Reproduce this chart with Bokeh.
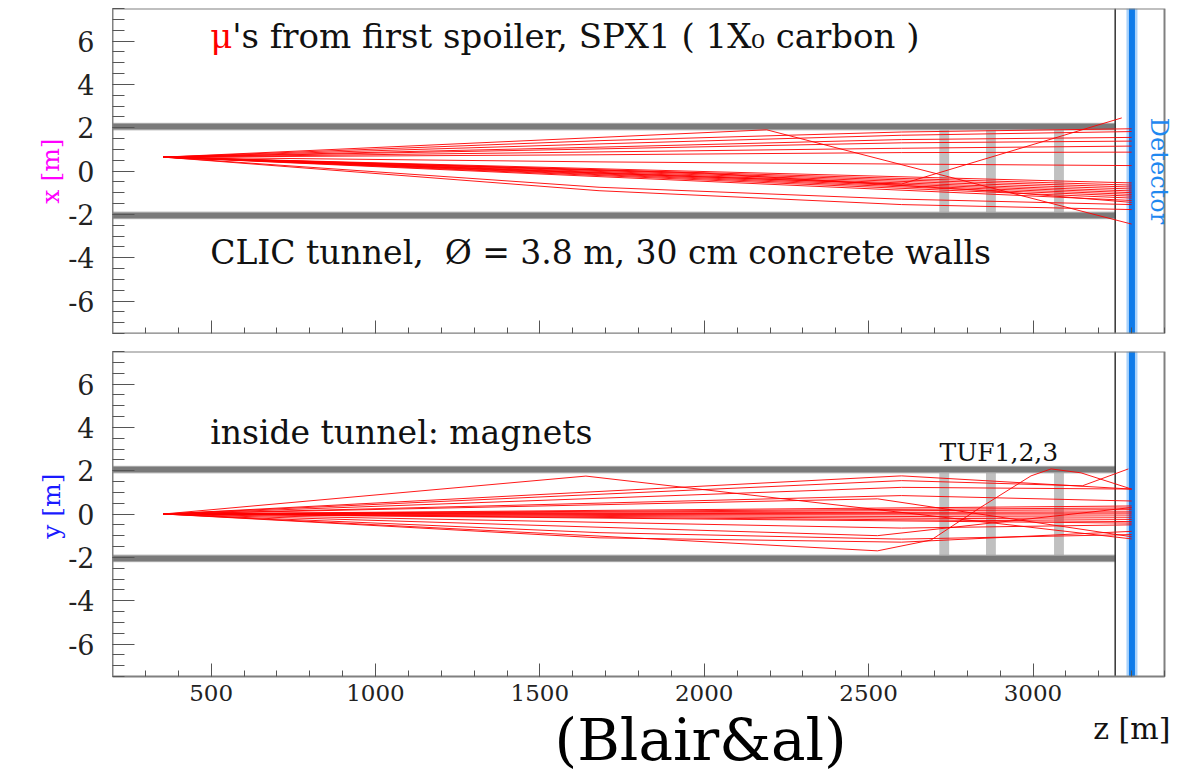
import math
from bokeh.plotting import figure
from bokeh.layouts import column
from bokeh.models import Range1d, SingleIntervalTicker, Label, Title, CustomLabelingPolicy
from bokeh.embed import file_html
from bokeh.resources import INLINE

# ---------------- data ----------------
Z_RANGE = (200, 3400)          # drawn box in z
R_RANGE = (-7.5, 7.5)          # drawn box in x / y
WALL_INNER = 1.9
WALL_OUTER = 2.2
TUNNEL_END_Z = 3250
DETECTOR_Z = 3301
TUF_Z = [2730, 2872, 3079]
TUF_HALF_WIDTH = 15
Y_TICK_LABELS = {-6: "-6", -4: "-4", -2: "-2", 0: "0", 2: "2", 4: "4", 6: "6"}

# muon tracks, horizontal plane (x vs z)
X_TRACKS_Z = [
    [355, 2190, 3300],
    [355, 1680, 2600, 3300],
    [355, 1680, 2600, 3300],
    [355, 1680, 2600, 3300],
    [355, 1680, 2600, 3300],
    [355, 1680, 2600, 3300],
    [355, 1680, 2600, 3300],
    [355, 1680, 2600, 3300],
    [355, 3300],
    [355, 3300],
    [355, 3300],
    [355, 3300],
    [355, 3300],
    [355, 3300],
    [355, 3300],
    [355, 3300],
    [355, 3300],
    [355, 3300],
    [355, 1680, 2600, 3300],
    [355, 1680, 2600, 3300],
    [355, 2600, 3270],
    [355, 2000, 2900, 3300],
]
X_TRACKS_X = [
    [0.64, 1.90, -2.45],
    [0.64, 1.40, 1.80, 1.95],
    [0.64, 1.25, 1.65, 1.82],
    [0.64, 1.10, 1.45, 1.55],
    [0.64, 1.02, 1.30, 1.38],
    [0.64, 0.88, 1.05, 1.15],
    [0.64, 0.75, 0.85, 0.87],
    [0.64, 0.42, 0.32, 0.25],
    [0.64, -0.55],
    [0.64, -0.65],
    [0.64, -0.74],
    [0.64, -0.83],
    [0.64, -0.92],
    [0.64, -1.00],
    [0.64, -1.08],
    [0.64, -1.16],
    [0.64, -1.25],
    [0.64, -1.36],
    [0.64, -0.75, -1.30, -1.55],
    [0.64, -0.91, -1.55, -1.78],
    [0.64, -0.60, 2.45],
    [0.64, -0.10, -0.95, -1.45],
]

# muon tracks, vertical plane (y vs z)
Y_TRACKS_Z = [
    [355, 1640, 3300],
    [355, 2600, 3300],
    [355, 2600, 3150, 3290],
    [355, 2600, 3300],
    [355, 2527, 3300],
    [355, 2600, 3300],
    [355, 3300],
    [355, 3300],
    [355, 3300],
    [355, 3300],
    [355, 3300],
    [355, 3300],
    [355, 3300],
    [355, 3300],
    [355, 3300],
    [355, 3300],
    [355, 2527, 3300],
    [355, 2600, 3300],
    [355, 1680, 2600, 3300],
    [355, 1680, 2600, 3300],
    [355, 1680, 2527, 2690, 2840, 2994, 3055, 3146, 3300],
]
Y_TRACKS_Y = [
    [0.0, 1.75, -1.15],
    [0.0, 1.76, 1.15],
    [0.0, 1.54, 1.30, 2.08],
    [0.0, 1.23, 1.15],
    [0.0, 0.70, -1.05],
    [0.0, 0.85, 0.60],
    [0.0, 0.37],
    [0.0, 0.28],
    [0.0, 0.20],
    [0.0, 0.10],
    [0.0, 0.04],
    [0.0, -0.05],
    [0.0, -0.15],
    [0.0, -0.25],
    [0.0, -0.35],
    [0.0, -0.42],
    [0.0, -1.00, 0.30],
    [0.0, -0.65, -0.50],
    [0.0, -0.86, -1.16, -0.95],
    [0.0, -1.10, -1.30, -0.80],
    [0.0, -1.02, -1.70, -1.20, 0.30, 1.76, 2.08, 1.90, 1.15],
]

SERIF = "DejaVu Serif"

# layout geometry (pixels)
FRAME_LEFT, BOX_RIGHT, PAGE_W = 112, 1164, 1180
BOX_H = 325
Z_PER_PX = (Z_RANGE[1] - Z_RANGE[0]) / (BOX_RIGHT - FRAME_LEFT)
R_PER_PX = (R_RANGE[1] - R_RANGE[0]) / BOX_H
Z_VIEW = (Z_RANGE[0], Z_RANGE[1] + (PAGE_W - BOX_RIGHT) * Z_PER_PX)


def make_panel(height, border_top, border_bottom, tracks_z, tracks_v, bottom_panel):
    frame_h = height - border_top - border_bottom
    y_lo = R_RANGE[1] - frame_h * R_PER_PX
    p = figure(width=PAGE_W, height=height,
               x_range=Range1d(*Z_VIEW), y_range=Range1d(y_lo, R_RANGE[1]),
               output_backend="svg", toolbar_location=None,
               min_border_left=FRAME_LEFT, min_border_right=0,
               min_border_top=border_top, min_border_bottom=border_bottom)
    p.xgrid.visible = False
    p.ygrid.visible = False
    p.outline_line_color = None
    p.background_fill_color = "white"
    p.border_fill_color = "white"

    # TUF shielding walls
    p.quad(left=[z - TUF_HALF_WIDTH for z in TUF_Z], right=[z + TUF_HALF_WIDTH for z in TUF_Z],
           bottom=-WALL_INNER, top=WALL_INNER, fill_color="#c0c0c0", line_color=None)
    # tunnel walls
    p.quad(left=Z_RANGE[0], right=TUNNEL_END_Z, bottom=[WALL_INNER, -WALL_OUTER],
           top=[WALL_OUTER, -WALL_INNER], fill_color="#7a7a7a", line_color="#a8a8a8", line_width=1)
    # end of tunnel and detector plane
    p.segment(x0=[TUNNEL_END_Z], y0=[R_RANGE[0]], x1=[TUNNEL_END_Z], y1=[R_RANGE[1]],
              line_color="#333333", line_width=1.5)
    p.segment(x0=[DETECTOR_Z], y0=[R_RANGE[0]], x1=[DETECTOR_Z], y1=[R_RANGE[1]],
              line_color="#a9d2fb", line_width=11)
    p.segment(x0=[DETECTOR_Z], y0=[R_RANGE[0]], x1=[DETECTOR_Z], y1=[R_RANGE[1]],
              line_color="#0f7be9", line_width=6)

    p.multi_line(xs=tracks_z, ys=tracks_v, line_color="#ff0000", line_width=1, line_alpha=0.9)

    # panel box
    p.quad(left=[Z_RANGE[0]], right=[Z_RANGE[1]], bottom=[R_RANGE[0]], top=[R_RANGE[1]],
           fill_color=None, line_color="#808080", line_width=2)

    # axes
    p.xaxis.ticker = SingleIntervalTicker(interval=500, num_minor_ticks=5)
    p.yaxis.ticker = SingleIntervalTicker(interval=2, num_minor_ticks=4)
    p.xaxis.bounds = Z_RANGE
    p.yaxis.bounds = R_RANGE
    p.xaxis.fixed_location = R_RANGE[0]
    for ax in (p.xaxis[0], p.yaxis[0]):
        ax.axis_line_color = "#808080"
        ax.major_tick_line_color = "#555555"
        ax.minor_tick_line_color = "#555555"
        ax.major_tick_out = 0
        ax.minor_tick_out = 0
    p.yaxis.major_tick_in = 22
    p.yaxis.minor_tick_in = 12
    p.xaxis.major_tick_in = 13
    p.xaxis.minor_tick_in = 6
    p.yaxis.major_label_overrides = Y_TICK_LABELS
    p.yaxis.major_label_text_font = SERIF
    p.yaxis.major_label_text_font_size = "27px"
    p.yaxis.major_label_text_color = "#222222"
    p.yaxis.major_label_standoff = 18
    if bottom_panel:
        p.xaxis.major_label_text_font = SERIF
        p.xaxis.major_label_text_font_size = "23px"
        p.xaxis.major_label_text_color = "#222222"
        p.xaxis.major_label_standoff = 8
    else:
        # ticks only, no tick labels on the upper panel
        p.xaxis.major_label_policy = CustomLabelingPolicy(
            code="for (const i of indices) { indices.unset(i) }\nreturn indices")
    return p


top = make_panel(340, 8, 7, X_TRACKS_Z, X_TRACKS_X, False)
bot = make_panel(435, 11, 0, Y_TRACKS_Z, Y_TRACKS_Y, True)

# y-axis titles
top.yaxis.axis_label = "x [m]"
top.yaxis.axis_label_text_color = "#ff00ff"
top.yaxis.axis_label_text_font = SERIF
top.yaxis.axis_label_text_font_size = "25px"
top.yaxis.axis_label_text_font_style = "normal"
top.yaxis.axis_label_standoff = 0
bot.add_layout(Title(text="y [m]", align="right", offset=122, standoff=0,
                     text_color="#1a1aff", text_font=SERIF, text_font_size="25px",
                     text_font_style="normal"), "left")

# annotations, top panel
top.add_layout(Label(x=497, y=6.25, text="\u03bc", text_color="#ff0000",
                     text_font=SERIF, text_font_size="34px", text_baseline="alphabetic"))
top.add_layout(Label(x=497, y=6.25, x_offset=22, text="'s from first spoiler, SPX1 ( 1X\u2080 carbon )",
                     text_color="#111111", text_font=SERIF, text_font_size="34px",
                     text_baseline="alphabetic"))
top.add_layout(Label(x=497, y=-3.74, text="CLIC tunnel, \u00a0\u00d8 = 3.8 m, 30 cm concrete walls",
                     text_color="#111111", text_font=SERIF, text_font_size="33px",
                     text_baseline="alphabetic"))
top.add_layout(Label(x=3384, y=0, text="Detector", angle=-math.pi / 2, text_color="#1f88f0",
                     text_font=SERIF, text_font_size="24px", text_align="center",
                     text_baseline="middle"))

# annotations, bottom panel
bot.add_layout(Label(x=497, y=3.78, text="inside tunnel: magnets", text_color="#111111",
                     text_font=SERIF, text_font_size="33px", text_baseline="alphabetic"))
bot.add_layout(Label(x=2896, y=2.84, text="TUF1,2,3", text_color="#111111",
                     text_font=SERIF, text_font_size="25px", text_align="center",
                     text_baseline="alphabetic"))
bot.add_layout(Label(x=3183, y=-9.88, text="z [m]", text_color="#111111",
                     text_font=SERIF, text_font_size="30px", text_baseline="alphabetic"))
bot.add_layout(Label(x=1989, y=-10.45, text="(Blair&al)", text_color="#000000",
                     text_font=SERIF, text_font_size="58px", text_align="center",
                     text_baseline="alphabetic"))

layout = column(top, bot, spacing=0)
open("out.html", "w").write(file_html(layout, INLINE))
